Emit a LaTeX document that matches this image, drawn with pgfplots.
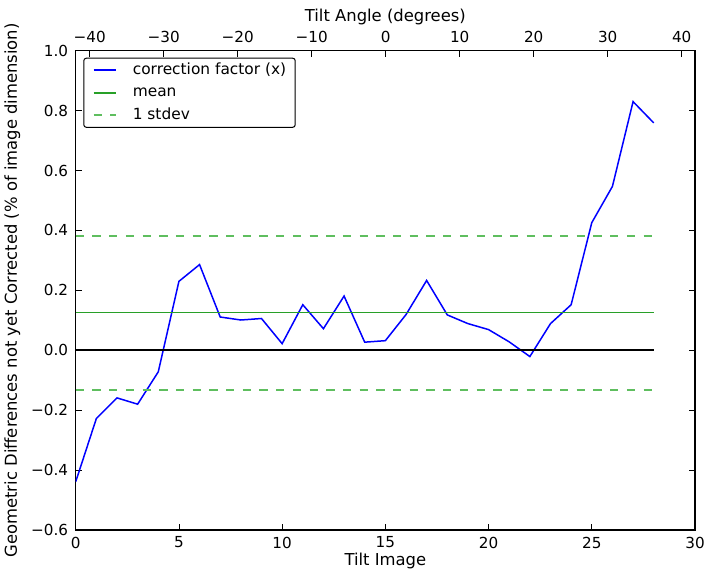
\documentclass[border=0pt]{standalone}
\usepackage{fontspec}
\setmainfont{DejaVu Sans}
\usepackage{pgfplots}
\pgfplotsset{compat=1.18}
\definecolor{meang}{RGB}{40,160,40}
\definecolor{dashgreen}{RGB}{95,190,95}
\begin{document}
\begin{tikzpicture}
\useasboundingbox (-75.7pt,-49pt) rectangle (638.3pt,530pt);
\begin{axis}[
  at={(0pt,0pt)}, anchor=south west,
  scale only axis, width=619.3pt, height=479.3pt,
  xmin=0, xmax=30, ymin=-0.6, ymax=1.0,
  xtick={0,5,10,15,20,25,30},
  xticklabels={0,5,10,15,20,25,30},
  ytick={-0.6,-0.4,-0.2,0,0.2,0.4,0.6,0.8,1.0},
  yticklabels={−0.6,−0.4,−0.2,0.0,0.2,0.4,0.6,0.8,1.0},
  xtick pos=left,
  tick align=inside,
  major tick length=6pt,
  tick style={black, line width=0.8pt},
  axis line style={line width=1.2pt},
  every tick label/.append style={font=\fontsize{15.2}{18}\selectfont},
  xticklabel style={anchor=north, inner sep=0pt, yshift=-6.7pt},
  yticklabel style={anchor=east, inner sep=0pt, xshift=-7.4pt},
  xlabel={Tilt Image},
  ylabel={Geometric Differences not yet Corrected (\% of image dimension)},
  every axis x label/.style={at={([yshift=-35.7pt]axis description cs:0.5,0)}, anchor=base, font=\fontsize{16.4}{19}\selectfont},
  every axis y label/.style={at={([xshift=-58.7pt]axis description cs:0,0.5)}, anchor=base, rotate=90, font=\fontsize{16.4}{19}\selectfont},
  legend image code/.code={\draw[#1] (0pt,0pt) -- (22.7pt,0pt);},
  legend cell align=left,
  legend style={at={([xshift=7.6pt,yshift=-7pt]axis description cs:0,1)}, anchor=north west,
    draw=black, line width=1pt, rounded corners=2.5pt,
    inner xsep=9pt, inner ysep=4.3pt, row sep=7pt,
    font=\fontsize{15.4}{18}\selectfont,
    nodes={inner sep=0pt, text height=12pt, text depth=3.5pt},
    /tikz/every odd column/.style={column sep=15.7pt}},
]
\addplot[blue, line width=1.5pt] coordinates {
(0,-0.439) (1,-0.228) (2,-0.159) (3,-0.180) (4,-0.072) (5,0.230) (6,0.286)
(7,0.111) (8,0.101) (9,0.106) (10,0.022) (11,0.152) (12,0.072) (13,0.181)
(14,0.027) (15,0.032) (16,0.119) (17,0.233) (18,0.118) (19,0.089) (20,0.069)
(21,0.028) (22,-0.021) (23,0.089) (24,0.152) (25,0.426) (26,0.547) (27,0.830) (28,0.759)};
\addlegendentry{correction factor (x)}
\addplot[meang, line width=1.6pt] coordinates {(0,0.1256) (28,0.1256)};
\addlegendentry{mean}
\addplot[color=dashgreen, line width=1.6pt, dash pattern=on 8.3pt off 8.4pt] coordinates {(0,0.382) (28,0.382)};
\addlegendentry{1 stdev}
\addplot[color=dashgreen, line width=1.6pt, dash pattern=on 8.3pt off 8.4pt, forget plot] coordinates {(0,-0.132) (28,-0.132)};
\addplot[black, line width=1.6pt, forget plot] coordinates {(0,0) (28,0)};
\end{axis}
\begin{axis}[
  at={(0pt,0pt)}, anchor=south west,
  scale only axis, width=619.3pt, height=479.3pt,
  xmin=-41.9, xmax=41.8, ymin=-0.6, ymax=1.0,
  hide y axis,
  xtick={-40,-30,-20,-10,0,10,20,30,40},
  xticklabels={−40,−30,−20,−10,0,10,20,30,40},
  xtick pos=right, xticklabel pos=right,
  tick align=inside,
  major tick length=6pt,
  tick style={black, line width=0.8pt},
  axis line style={line width=1.2pt},
  every tick label/.append style={font=\fontsize{15.2}{18}\selectfont},
  xticklabel style={anchor=south, inner sep=0pt, yshift=8pt},
  xlabel={Tilt Angle (degrees)},
  every axis x label/.style={at={([yshift=29pt]axis description cs:0.5,1)}, anchor=base, font=\fontsize{16.4}{19}\selectfont},
]
\end{axis}
\end{tikzpicture}
\end{document}
